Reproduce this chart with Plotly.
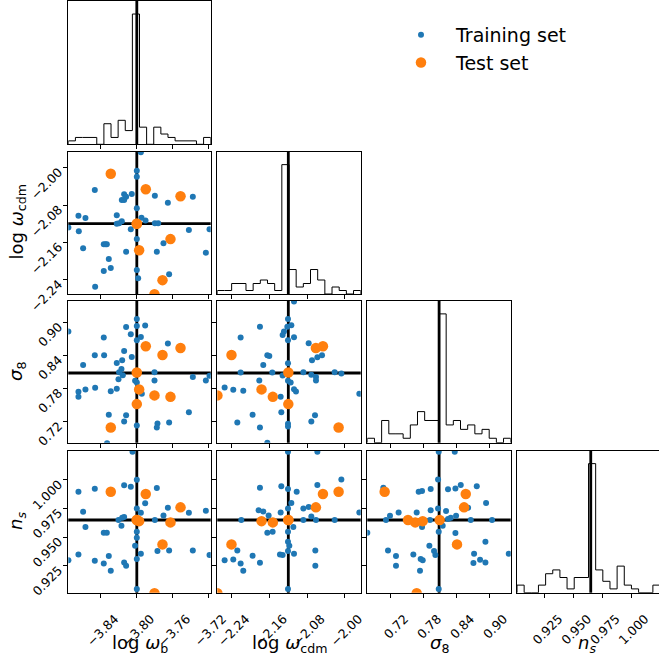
import numpy as np
import plotly.graph_objects as go

# ---------------------------------------------------------------- parameters
param_labels = ["log <i>ω</i><sub>b</sub>", "log <i>ω</i><sub>cdm</sub>",
                "<i>σ</i><sub>8</sub>", "<i>n<sub>s</sub></i>"]
truths = [-3.800, -2.120, 0.808, 0.9649]

# axis ranges (columns / rows) and tick values
col_ranges = [[-3.8763, -3.7177], [-2.2712, -1.9659], [0.6776, 0.9380], [0.9006, 1.0244]]
row_ranges = [None, [-2.2707, -1.9657], [0.6815, 0.9386], [0.9015, 1.0253]]
hist_edges_lohi = [[-3.8763, -3.7177], [-2.2712, -1.9659], [0.6776, 0.9380], [0.9006, 1.0253]]
tick_vals = [[-3.84, -3.80, -3.76, -3.72], [-2.24, -2.16, -2.08, -2.00],
             [0.72, 0.78, 0.84, 0.90], [0.925, 0.950, 0.975, 1.000]]
tick_text = [["−3.84", "−3.80", "−3.76", "−3.72"], ["−2.24", "−2.16", "−2.08", "−2.00"],
             ["0.72", "0.78", "0.84", "0.90"], ["0.925", "0.950", "0.975", "1.000"]]

# ---------------------------------------------------------------- histograms (training set, 20 bins)
hist_log_wb = [1, 2, 2, 2, 0, 6, 2, 7, 4, 38, 5, 0, 5, 3, 2, 1, 1, 1, 0, 2]
hist_log_wcdm = [1, 1, 3, 3, 1, 3, 4, 3, 1, 37, 7, 2, 3, 7, 4, 0, 2, 1, 0, 1]
hist_sigma8 = [1, 0, 5, 2, 2, 1, 4, 7, 5, 5, 29, 4, 5, 3, 4, 2, 3, 1, 0, 1]
hist_ns = [2, 0, 0, 2, 5, 6, 4, 1, 4, 4, 34, 6, 3, 1, 7, 2, 1, 0, 0, 2]

# ---------------------------------------------------------------- test set
test_log_wb = [-3.8290, -3.7900, -3.7513, -3.8000, -3.7625, -3.7974, -3.7714, -3.7803, -3.8000]
test_log_wcdm = [-2.0129, -2.0463, -2.0613, -2.1200, -2.1530, -2.1770, -2.2410, -2.2710, -2.1200]
test_sigma8 = [0.7091, 0.8564, 0.8533, 0.8090, 0.7647, 0.7782, 0.8405, 0.7673, 0.7515]
test_ns = [0.9895, 0.9875, 0.9759, 0.9649, 0.9628, 0.9639, 0.9436, 0.9011, 0.9649]

# ---------------------------------------------------------------- training set, pairwise projections
train_wb_wcdm_x = [-3.7955, -3.8000, -3.8000, -3.8468, -3.8056, -3.8141, -3.8119, -3.8167, -3.8141,
                   -3.7799, -3.7654, -3.7376, -3.8000, -3.8650, -3.8572, -3.8223, -3.7948, -3.7903,
                   -3.8167, -3.8223, -3.8197, -3.7799, -3.7762, -3.8762, -3.8646, -3.8067, -3.7420,
                   -3.7190, -3.8000, -3.8368, -3.8349, -3.8334, -3.7703, -3.8598, -3.8119, -3.7777,
                   -3.7231, -3.8312, -3.8290, -3.8368, -3.8000, -3.7985, -3.7640, -3.8464]
train_wb_wcdm_y = [-1.9671, -2.0064, -2.0193, -2.0479, -2.0564, -2.0571, -2.0621, -2.0693, -2.0693,
                   -2.0600, -2.0750, -2.0621, -2.0871, -2.1029, -2.1079, -2.1021, -2.1071, -2.1129,
                   -2.1150, -2.1200, -2.1193, -2.1193, -2.1193, -2.1279, -2.1364, -2.1321, -2.1336,
                   -2.1321, -2.1529, -2.1643, -2.1643, -2.1643, -2.1621, -2.1729, -2.1800, -2.1800,
                   -2.1821, -2.1957, -2.2150, -2.2214, -2.2193, -2.2371, -2.2286, -2.2550]

train_wb_s8_x = [-3.8762, -3.8000, -3.8000, -3.8119, -3.7907, -3.8368, -3.8067, -3.7955, -3.8000,
                 -3.7654, -3.8141, -3.8468, -3.8364, -3.8056, -3.8598, -3.8223, -3.8163, -3.8171,
                 -3.8197, -3.8156, -3.8204, -3.7803, -3.7803, -3.8019, -3.8000, -3.7376, -3.7231,
                 -3.7190, -3.8464, -3.8572, -3.8650, -3.8650, -3.8223, -3.8290, -3.7944, -3.7420,
                 -3.8312, -3.8119, -3.8141, -3.8000, -3.7770, -3.7777, -3.7640, -3.8331]
train_wb_s8_y = [0.8831, 0.9060, 0.8934, 0.8915, 0.8940, 0.8722, 0.8783, 0.8734, 0.8674,
                 0.8613, 0.8481, 0.8402, 0.8402, 0.8372, 0.8227, 0.8263, 0.8311, 0.8154,
                 0.8094, 0.8040, 0.7967, 0.8094, 0.7943, 0.7937, 0.7907, 0.8009, 0.7943,
                 0.8028, 0.7810, 0.7780, 0.7738, 0.7647, 0.7792, 0.7750, 0.7701, 0.7369,
                 0.7321, 0.7315, 0.7200, 0.7128, 0.7164, 0.7091, 0.7182, 0.6807]

train_wb_ns_x = [-3.8048, -3.8000, -3.8650, -3.8468, -3.8141, -3.8067, -3.7777, -3.8000, -3.7907,
                 -3.7654, -3.8598, -3.7955, -3.7703, -3.7420, -3.7231, -3.8141, -3.8163, -3.8204,
                 -3.7799, -3.8572, -3.8171, -3.8000, -3.8368, -3.8334, -3.8000, -3.8019, -3.7955,
                 -3.7770, -3.7640, -3.7376, -3.7190, -3.8650, -3.8312, -3.8762, -3.8468, -3.8368,
                 -3.8141, -3.8119, -3.8290, -3.8000, -3.8000]
train_wb_ns_y = [1.0244, 1.0000, 0.9895, 0.9922, 0.9951, 0.9939, 0.9927, 0.9750, 0.9794,
                 0.9756, 0.9721, 0.9712, 0.9689, 0.9712, 0.9730, 0.9674, 0.9669, 0.9648,
                 0.9648, 0.9587, 0.9599, 0.9547, 0.9538, 0.9538, 0.9494, 0.9424, 0.9355,
                 0.9378, 0.9384, 0.9384, 0.9343, 0.9349, 0.9334, 0.9297, 0.9294, 0.9270,
                 0.9279, 0.9250, 0.9206, 0.9308, 0.9047]

train_wcdm_s8_x = [-2.1079, -2.1207, -2.1136, -2.1221, -2.1804, -2.1292, -2.1321, -2.2215, -2.1079,
                   -2.1207, -2.0767, -2.1647, -2.1605, -2.0582, -2.0483, -2.0696, -2.1733, -2.1207,
                   -2.2215, -2.1541, -2.1321, -2.0880, -2.0710, -2.0611, -2.0611, -2.0213, -2.0071,
                   -2.1818, -2.1207, -2.1150, -2.2556, -2.2372, -2.2159, -2.1079, -2.1037, -2.1363,
                   -1.9688, -2.1349, -2.1960, -2.0632, -2.1207, -2.1207, -2.0710, -2.2286, -2.1804,
                   -2.1647]
train_wcdm_s8_y = [0.9375, 0.9060, 0.8946, 0.8921, 0.8921, 0.8831, 0.8770, 0.8722, 0.8728,
                   0.8674, 0.8619, 0.8402, 0.8390, 0.8366, 0.8402, 0.8311, 0.8227, 0.8257,
                   0.8088, 0.8088, 0.8034, 0.8094, 0.8046, 0.8009, 0.7943, 0.8094, 0.8070,
                   0.7943, 0.7937, 0.7907, 0.7816, 0.7774, 0.7756, 0.7786, 0.7744, 0.7647,
                   0.7701, 0.7369, 0.7321, 0.7315, 0.7158, 0.7110, 0.7200, 0.7182, 0.7091,
                   0.6813]

train_wcdm_ns_x = [-2.1207, -2.0582, -2.0071, -2.1804, -2.1349, -2.1207, -2.1022, -2.0582, -2.1136,
                   -2.1207, -2.0880, -2.0767, -2.1832, -2.1733, -2.1363, -2.1619, -2.0710, -2.2201,
                   -2.0880, -2.0611, -2.0213, -1.9688, -2.1093, -2.1647, -2.1534, -2.1207, -2.1207,
                   -2.1179, -2.2286, -2.0625, -2.1207, -2.1378, -2.1321, -2.1079, -2.1960, -2.2556,
                   -2.2372, -2.1804, -2.2215, -2.0625, -2.2159, -2.1207]
train_wcdm_ns_y = [1.0244, 1.0244, 1.0003, 0.9930, 0.9942, 0.9919, 0.9895, 0.9953, 0.9797,
                   0.9750, 0.9750, 0.9762, 0.9733, 0.9724, 0.9715, 0.9689, 0.9680, 0.9648,
                   0.9648, 0.9648, 0.9648, 0.9715, 0.9587, 0.9538, 0.9547, 0.9547, 0.9459,
                   0.9424, 0.9384, 0.9384, 0.9378, 0.9349, 0.9343, 0.9355, 0.9337, 0.9297,
                   0.9305, 0.9276, 0.9270, 0.9250, 0.9206, 0.9047]

train_s8_ns_x = [0.8073, 0.8364, 0.8061, 0.7067, 0.7709, 0.7770, 0.7927, 0.8242, 0.8376,
                 0.8473, 0.8764, 0.8061, 0.7927, 0.8206, 0.7345, 0.7673, 0.7188, 0.7115,
                 0.7915, 0.8145, 0.8242, 0.8291, 0.8388, 0.8655, 0.9042, 0.8933, 0.8606,
                 0.7770, 0.8073, 0.8376, 0.6776, 0.7903, 0.7152, 0.7988, 0.8012, 0.7612,
                 0.7297, 0.7745, 0.7782, 0.8715, 0.8824, 0.8703, 0.8921, 0.8921, 0.9345,
                 0.7297, 0.7733, 0.8073]
train_s8_ns_y = [1.0244, 1.0244, 1.0003, 0.9930, 0.9895, 0.9901, 0.9919, 0.9916, 0.9924,
                 0.9953, 0.9942, 0.9750, 0.9733, 0.9727, 0.9715, 0.9715, 0.9686, 0.9648,
                 0.9648, 0.9599, 0.9657, 0.9669, 0.9686, 0.9648, 0.9648, 0.9797, 0.9756,
                 0.9587, 0.9547, 0.9535, 0.9538, 0.9424, 0.9384, 0.9378, 0.9343, 0.9349,
                 0.9334, 0.9308, 0.9297, 0.9355, 0.9302, 0.9273, 0.9279, 0.9459, 0.9355,
                 0.9250, 0.9206, 0.9047]

# ---------------------------------------------------------------- styling
W, H = 659, 658
BLUE, ORANGE = "#1f77b4", "#ff7f0e"
FONT = "DejaVu Sans"
TICK_FONT = dict(family=FONT, size=12.5, color="black")
col_px = [(68.3, 210.7), (217.3, 360.7), (367.3, 510.7), (517.0, 659.0)]
row_px = [(1.0, 144.3), (151.7, 294.0), (301.0, 442.7), (450.7, 592.7)]

hist_counts = [hist_log_wb, hist_log_wcdm, hist_sigma8, hist_ns]
test_cols = [test_log_wb, test_log_wcdm, test_sigma8, test_ns]
train_pairs = {
    (1, 0): (train_wb_wcdm_x, train_wb_wcdm_y),
    (2, 0): (train_wb_s8_x, train_wb_s8_y),
    (3, 0): (train_wb_ns_x, train_wb_ns_y),
    (2, 1): (train_wcdm_s8_x, train_wcdm_s8_y),
    (3, 1): (train_wcdm_ns_x, train_wcdm_ns_y),
    (3, 2): (train_s8_ns_x, train_s8_ns_y),
}

fig = go.Figure()
layout = {}
shapes = []
k = 0
for i in range(4):
    for j in range(i + 1):
        k += 1
        sfx = "" if k == 1 else str(k)
        xr, yr = "x" + sfx, "y" + sfx
        xdom = [col_px[j][0] / W, min(col_px[j][1] / W, 1.0)]
        ydom = [1 - row_px[i][1] / H, 1 - row_px[i][0] / H]
        bottom = i == 3
        layout["xaxis" + sfx] = dict(
            domain=xdom, anchor=yr, range=col_ranges[j], tickvals=tick_vals[j],
            ticktext=tick_text[j], showticklabels=bottom, tickangle=-45, automargin=False,
            ticklabelshift=14, ticklabelstandoff=9,
            ticks="outside", ticklen=4, tickwidth=1, tickcolor="black",
            showline=True, mirror=True, linecolor="black", linewidth=1,
            showgrid=False, zeroline=False, tickfont=TICK_FONT)
        if i == j:
            counts = hist_counts[j]
            edges = np.linspace(hist_edges_lohi[j][0], hist_edges_lohi[j][1], len(counts) + 1)
            xs, ys = [edges[0]], [0]
            for b, c in enumerate(counts):
                xs += [edges[b], edges[b + 1]]
                ys += [c, c]
            xs.append(edges[-1]); ys.append(0)
            fig.add_trace(go.Scatter(x=xs, y=ys, mode="lines", xaxis=xr, yaxis=yr,
                                     line=dict(color="black", width=1), showlegend=False,
                                     hoverinfo="skip"))
            layout["yaxis" + sfx] = dict(
                domain=ydom, anchor=xr, range=[0, 1.1 * max(counts)], showticklabels=False,
                ticks="", showline=True, mirror=(j < 3), linecolor="black", linewidth=1,
                showgrid=False, zeroline=False, automargin=False)
            shapes.append(dict(type="line", xref=xr, yref=yr + " domain", x0=truths[j], x1=truths[j],
                               y0=0, y1=1, line=dict(color="black", width=2.8), layer="above"))
        else:
            layout["yaxis" + sfx] = dict(
                domain=ydom, anchor=xr, range=row_ranges[i], tickvals=tick_vals[i],
                ticktext=tick_text[i], showticklabels=(j == 0), tickangle=-45, automargin=False,
                ticklabelshift=3, ticklabelstandoff=2,
                ticks="outside", ticklen=4, tickwidth=1, tickcolor="black",
                showline=True, mirror=True, linecolor="black", linewidth=1,
                showgrid=False, zeroline=False, tickfont=TICK_FONT)
            shapes.append(dict(type="line", xref=xr, yref=yr + " domain", x0=truths[j], x1=truths[j],
                               y0=0, y1=1, line=dict(color="black", width=2.8), layer="below"))
            shapes.append(dict(type="line", xref=xr + " domain", yref=yr, x0=0, x1=1,
                               y0=truths[i], y1=truths[i], line=dict(color="black", width=2.8),
                               layer="below"))
            tx, ty = train_pairs[(i, j)]
            first = (i, j) == (1, 0)
            fig.add_trace(go.Scatter(x=tx, y=ty, mode="markers", xaxis=xr, yaxis=yr,
                                     marker=dict(color=BLUE, size=6), name="Training set",
                                     legendgroup="train", showlegend=first))
            fig.add_trace(go.Scatter(x=test_cols[j], y=test_cols[i], mode="markers",
                                     xaxis=xr, yaxis=yr, marker=dict(color=ORANGE, size=10.5),
                                     name="Test set", legendgroup="test", showlegend=first))

# axis labels
annotations = []
bottom_label_x = [139.5, 289.0, 439.0, 587.0]
for j in range(4):
    annotations.append(dict(text=param_labels[j], xref="paper", yref="paper",
                            x=bottom_label_x[j] / W, y=1 - 644 / H, showarrow=False,
                            xanchor="center", yanchor="middle",
                            font=dict(family=FONT, size=18, color="black")))
left_label_y = [None, 222.5, 372.0, 521.0]
for i in range(1, 4):
    annotations.append(dict(text=param_labels[i], xref="paper", yref="paper",
                            x=17 / W, y=1 - left_label_y[i] / H, showarrow=False,
                            textangle=-90, xanchor="center", yanchor="middle",
                            font=dict(family=FONT, size=18, color="black")))

fig.update_layout(
    width=W, height=H, margin=dict(l=0, r=0, t=0, b=0, autoexpand=False),
    paper_bgcolor="white", plot_bgcolor="white",
    shapes=shapes, annotations=annotations,
    legend=dict(x=386 / W, y=1 - 16 / H, xanchor="left", yanchor="top",
                font=dict(family=FONT, size=19, color="black"), itemwidth=60,
                bgcolor="rgba(0,0,0,0)", tracegroupgap=0),
    **layout)

fig.write_html("out.html")
